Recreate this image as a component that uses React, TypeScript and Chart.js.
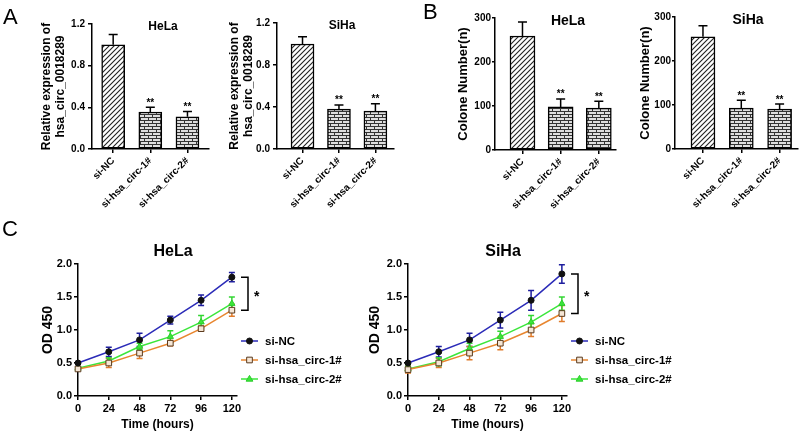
import React, { useEffect, useRef } from 'react';
import { Chart, registerables } from 'chart.js';

Chart.register(...registerables);

const FONT = "'Liberation Sans', Arial, Helvetica, sans-serif";
Chart.defaults.font.family = FONT;
Chart.defaults.color = '#000';

// ---------------- data ----------------
const groups = ['si-NC', 'si-hsa_circ-1#', 'si-hsa_circ-2#'];
const sigMarks = ['', '**', '**'];

const relTicks = [0, 0.4, 0.8, 1.2];
const relHeLa = [1.0, 0.355, 0.31];
const relHeLaErr = [0.1, 0.045, 0.05];
const relSiHa = [1.0, 0.38, 0.36];
const relSiHaErr = [0.07, 0.04, 0.07];

const colTicks = [0, 100, 200, 300];
const colHeLa = [259, 98, 95];
const colHeLaErr = [32, 18, 16];
const colSiHa = [255, 93, 91];
const colSiHaErr = [25, 18, 11];

const hours = [0, 24, 48, 72, 96, 120];
const odTicks = [0, 0.5, 1.0, 1.5, 2.0];
const seriesNames = ['si-NC', 'si-hsa_circ-1#', 'si-hsa_circ-2#'];

const helaNC = [0.5, 0.67, 0.85, 1.15, 1.45, 1.8];
const helaNCErr = [0.01, 0.07, 0.1, 0.06, 0.08, 0.07];
const helaC1 = [0.41, 0.5, 0.65, 0.8, 1.02, 1.3];
const helaC1Err = [0.02, 0.07, 0.08, 0.04, 0.04, 0.09];
const helaC2 = [0.42, 0.53, 0.75, 0.9, 1.12, 1.4];
const helaC2Err = [0.02, 0.05, 0.05, 0.09, 0.1, 0.1];

const sihaNC = [0.5, 0.67, 0.85, 1.15, 1.45, 1.85];
const sihaNCErr = [0.01, 0.08, 0.1, 0.12, 0.15, 0.14];
const sihaC1 = [0.4, 0.5, 0.65, 0.8, 1.0, 1.25];
const sihaC1Err = [0.05, 0.07, 0.1, 0.1, 0.1, 0.12];
const sihaC2 = [0.41, 0.52, 0.72, 0.9, 1.12, 1.4];
const sihaC2Err = [0.04, 0.06, 0.08, 0.08, 0.1, 0.1];

// ---------------- styles ----------------
const seriesStyles = [
  { line: '#2b2bb8', err: '#1e1e9e', marker: 'circle', r: 3, fill: '#111', stroke: '#111' },
  { line: '#e8862f', err: '#e07b2a', marker: 'rect', r: 4, fill: '#f5e6d6', stroke: '#5a3a1e' },
  { line: '#3be63b', err: '#33d633', marker: 'triangle', r: 3.6, fill: '#3be63b', stroke: '#2ccc2c' },
];

type BarSpec = {
  values: number[]; errs: number[]; ticks: number[]; decimals: number; yMax: number;
  title: string; yTitle: string | string[];
  left: number; top: number; w: number; h: number; padTop: number; padRight: number;
  yW: number; xH: number; xMin: number; xMax: number; barW: number;
  yTitleSize: number; yTitleLH: number; yTitlePad: number; tickLen: number; tickPad: number;
  titleX: number; titleY: number; titleSize: number;
};

const barPanels: BarSpec[] = [
  {
    values: relHeLa, errs: relHeLaErr, ticks: relTicks, decimals: 1, yMax: 1.2,
    title: 'HeLa', yTitle: ['Relative expression of', 'hsa_circ_0018289'],
    left: 0, top: 0, w: 215, h: 222, padTop: 24, padRight: 6, yW: 92, xH: 73,
    xMin: -0.57, xMax: 2.58, barW: 23, yTitleSize: 12, yTitleLH: 1.1, yTitlePad: 40.4,
    tickLen: 4, tickPad: 3, titleX: 163, titleY: 27, titleSize: 12,
  },
  {
    values: relSiHa, errs: relSiHaErr, ticks: relTicks, decimals: 1, yMax: 1.2,
    title: 'SiHa', yTitle: ['Relative expression of', 'hsa_circ_0018289'],
    left: 190, top: 0, w: 210, h: 222, padTop: 23, padRight: 6, yW: 87, xH: 73,
    xMin: -0.7, xMax: 2.51, barW: 23, yTitleSize: 12, yTitleLH: 1.1, yTitlePad: 38.4,
    tickLen: 4, tickPad: 3, titleX: 152, titleY: 26, titleSize: 12,
  },
  {
    values: colHeLa, errs: colHeLaErr, ticks: colTicks, decimals: 0, yMax: 300,
    title: 'HeLa', yTitle: 'Colone Number(n)',
    left: 400, top: 0, w: 222, h: 222, padTop: 18, padRight: 6, yW: 95, xH: 72,
    xMin: -0.72, xMax: 2.45, barW: 25, yTitleSize: 13, yTitleLH: 1.2, yTitlePad: 55.2,
    tickLen: 3, tickPad: 1, titleX: 168, titleY: 21, titleSize: 14,
  },
  {
    values: colSiHa, errs: colSiHaErr, ticks: colTicks, decimals: 0, yMax: 300,
    title: 'SiHa', yTitle: 'Colone Number(n)',
    left: 622, top: 0, w: 178, h: 222, padTop: 17, padRight: 2, yW: 53, xH: 73,
    xMin: -0.73, xMax: 2.48, barW: 24, yTitleSize: 13, yTitleLH: 1.2, yTitlePad: 15.2,
    tickLen: 3, tickPad: 1, titleX: 126, titleY: 20, titleSize: 14,
  },
];

type LineSpec = {
  series: number[][]; errs: number[][]; title: string;
  left: number; top: number; w: number; h: number; padTop: number; padRight: number;
  yW: number; xH: number; yTitlePad: number; titleX: number; titleY: number;
};

const linePanels: LineSpec[] = [
  {
    series: [helaNC, helaC1, helaC2], errs: [helaNCErr, helaC1Err, helaC2Err], title: 'HeLa',
    left: 0, top: 222, w: 355, h: 212, padTop: 42, padRight: 118, yW: 78, xH: 38,
    yTitlePad: 39.6, titleX: 173, titleY: 30,
  },
  {
    series: [sihaNC, sihaC1, sihaC2], errs: [sihaNCErr, sihaC1Err, sihaC2Err], title: 'SiHa',
    left: 355, top: 222, w: 445, h: 212, padTop: 42, padRight: 233, yW: 53, xH: 38,
    yTitlePad: 11.6, titleX: 148, titleY: 30,
  },
];

// ---------------- helpers ----------------
function makeDiagonal(): CanvasPattern | string {
  const c = document.createElement('canvas');
  c.width = 5; c.height = 5;
  const g = c.getContext('2d');
  if (!g) return '#fff';
  g.fillStyle = '#fff';
  g.fillRect(0, 0, 5, 5);
  g.strokeStyle = '#222';
  g.lineWidth = 1.1;
  g.beginPath();
  g.moveTo(-1, 6); g.lineTo(6, -1);
  g.moveTo(-1, 1); g.lineTo(1, -1);
  g.moveTo(4, 6); g.lineTo(6, 4);
  g.stroke();
  return g.createPattern(c, 'repeat') || '#fff';
}

function makeBrick(): CanvasPattern | string {
  const c = document.createElement('canvas');
  c.width = 8; c.height = 6;
  const g = c.getContext('2d');
  if (!g) return '#bbb';
  g.fillStyle = '#dedede';
  g.fillRect(0, 0, 8, 6);
  g.fillStyle = '#333';
  g.fillRect(0, 0, 8, 1);
  g.fillRect(0, 3, 8, 1);
  g.fillRect(0, 0, 1, 3);
  g.fillRect(4, 3, 1, 3);
  return g.createPattern(c, 'repeat') || '#bbb';
}

function drawMarker(ctx: CanvasRenderingContext2D, style: string, x: number, y: number, r: number, fill: string, stroke: string) {
  ctx.beginPath();
  if (style === 'circle') {
    ctx.arc(x, y, r, 0, Math.PI * 2);
  } else if (style === 'rect') {
    const s = r / Math.SQRT2;
    ctx.rect(x - s, y - s, 2 * s, 2 * s);
  } else {
    ctx.moveTo(x, y - r);
    ctx.lineTo(x + r * 0.95, y + r * 0.6);
    ctx.lineTo(x - r * 0.95, y + r * 0.6);
    ctx.closePath();
  }
  ctx.fillStyle = fill;
  ctx.fill();
  ctx.lineWidth = 1;
  ctx.strokeStyle = stroke;
  ctx.stroke();
}

function barConfig(p: BarSpec, fills: (CanvasPattern | string)[]): any {
  const decor = {
    id: 'barDecor',
    afterDatasetsDraw(chart: any) {
      const ctx: CanvasRenderingContext2D = chart.ctx;
      const meta = chart.getDatasetMeta(0);
      const y = chart.scales.y;
      ctx.save();
      ctx.strokeStyle = '#000';
      ctx.lineWidth = 1.5;
      p.values.forEach((v, i) => {
        const x = meta.data[i].x;
        const yBar = y.getPixelForValue(v);
        const yTop = y.getPixelForValue(v + p.errs[i]);
        ctx.beginPath();
        ctx.moveTo(x, yBar); ctx.lineTo(x, yTop);
        ctx.moveTo(x - 4.5, yTop); ctx.lineTo(x + 4.5, yTop);
        ctx.stroke();
        if (sigMarks[i]) {
          ctx.fillStyle = '#000';
          ctx.font = `bold 10px ${FONT}`;
          ctx.textAlign = 'center';
          ctx.textBaseline = 'alphabetic';
          ctx.fillText(sigMarks[i], x, yTop - 1.5);
        }
      });
      ctx.fillStyle = '#000';
      ctx.font = `bold ${p.titleSize}px ${FONT}`;
      ctx.textAlign = 'center';
      ctx.textBaseline = 'middle';
      ctx.fillText(p.title, p.titleX, p.titleY);
      ctx.restore();
    },
  };
  return {
    type: 'bar',
    data: {
      datasets: [{
        data: p.values.map((v, i) => ({ x: i, y: v })),
        backgroundColor: fills,
        borderColor: '#000',
        borderWidth: 1.5,
        borderSkipped: false,
        barThickness: p.barW,
      }],
    },
    options: {
      animation: false,
      responsive: false,
      maintainAspectRatio: false,
      events: [],
      layout: { padding: { top: p.padTop, right: p.padRight, bottom: 0, left: 0 } },
      plugins: { legend: { display: false }, tooltip: { enabled: false }, title: { display: false } },
      scales: {
        x: {
          type: 'linear', min: p.xMin, max: p.xMax, bounds: 'data', offset: false,
          afterBuildTicks: (s: any) => { s.ticks = p.values.map((_, i) => ({ value: i })); },
          afterFit: (s: any) => { s.height = p.xH; },
          ticks: {
            callback: (v: any) => groups[Number(v)] ?? '',
            minRotation: 45, maxRotation: 45, autoSkip: false, padding: 2,
            color: '#000', font: { size: 10, weight: 'bold' },
          },
          grid: { display: true, offset: false, drawOnChartArea: false, drawTicks: true, tickLength: 4, color: '#000', lineWidth: 1.5 },
          border: { display: true, color: '#000', width: 1.5 },
        },
        y: {
          type: 'linear', min: 0, max: p.yMax,
          afterBuildTicks: (s: any) => { s.ticks = p.ticks.map((v) => ({ value: v })); },
          afterFit: (s: any) => { s.width = p.yW; },
          ticks: {
            callback: (v: any) => Number(v).toFixed(p.decimals),
            padding: p.tickPad, color: '#000', font: { size: 10, weight: 'bold' },
          },
          grid: { display: true, drawOnChartArea: false, drawTicks: true, tickLength: p.tickLen, color: '#000', lineWidth: 1.5 },
          border: { display: true, color: '#000', width: 1.5 },
          title: {
            display: true, text: p.yTitle, color: '#000',
            font: { size: p.yTitleSize, weight: 'bold', lineHeight: p.yTitleLH },
            padding: { top: p.yTitlePad, bottom: 0 },
          },
        },
      },
    },
    plugins: [decor],
  };
}

function lineConfig(p: LineSpec): any {
  const decor = {
    id: 'lineDecor',
    beforeDatasetsDraw(chart: any) {
      const ctx: CanvasRenderingContext2D = chart.ctx;
      const y = chart.scales.y;
      ctx.save();
      ctx.lineWidth = 1.5;
      p.series.forEach((vals, si) => {
        const meta = chart.getDatasetMeta(si);
        ctx.strokeStyle = seriesStyles[si].err;
        vals.forEach((v, j) => {
          const e = p.errs[si][j];
          const x = meta.data[j].x;
          const y1 = y.getPixelForValue(v + e);
          const y2 = y.getPixelForValue(v - e);
          ctx.beginPath();
          ctx.moveTo(x, y1); ctx.lineTo(x, y2);
          ctx.moveTo(x - 3, y1); ctx.lineTo(x + 3, y1);
          ctx.moveTo(x - 3, y2); ctx.lineTo(x + 3, y2);
          ctx.stroke();
        });
      });
      ctx.restore();
    },
    afterDraw(chart: any) {
      const ctx: CanvasRenderingContext2D = chart.ctx;
      const y = chart.scales.y;
      const area = chart.chartArea;
      ctx.save();
      // title
      ctx.fillStyle = '#000';
      ctx.font = `bold 16px ${FONT}`;
      ctx.textAlign = 'center';
      ctx.textBaseline = 'middle';
      ctx.fillText(p.title, p.titleX, p.titleY);
      // significance bracket
      const nc = p.series[0];
      const c1 = p.series[1];
      const yA = y.getPixelForValue(nc[nc.length - 1]);
      const yB = y.getPixelForValue(c1[c1.length - 1]);
      const bx = area.right + 11;
      ctx.strokeStyle = '#000';
      ctx.lineWidth = 1.5;
      ctx.beginPath();
      ctx.moveTo(bx - 7, yA); ctx.lineTo(bx, yA); ctx.lineTo(bx, yB); ctx.lineTo(bx - 7, yB);
      ctx.stroke();
      ctx.font = `bold 14px ${FONT}`;
      ctx.textAlign = 'left';
      ctx.textBaseline = 'middle';
      ctx.fillText('*', bx + 6, (yA + yB) / 2 + 3);
      // legend
      const x0 = area.right + 4;
      const rows = [77, 96, 115];
      seriesNames.forEach((name, i) => {
        const st = seriesStyles[i];
        const ry = area.top + rows[i];
        ctx.strokeStyle = st.line;
        ctx.lineWidth = 1.5;
        ctx.beginPath();
        ctx.moveTo(x0, ry); ctx.lineTo(x0 + 17, ry);
        ctx.stroke();
        drawMarker(ctx, st.marker, x0 + 8.5, ry, st.r, st.fill, st.stroke);
        ctx.fillStyle = '#000';
        ctx.font = `bold 11.5px ${FONT}`;
        ctx.textAlign = 'left';
        ctx.textBaseline = 'middle';
        ctx.fillText(name, x0 + 24, ry + 0.5);
      });
      ctx.restore();
    },
  };
  return {
    type: 'line',
    data: {
      datasets: p.series.map((vals, si) => {
        const st = seriesStyles[si];
        return {
          label: seriesNames[si],
          data: vals.map((v, j) => ({ x: hours[j], y: v })),
          borderColor: st.line,
          backgroundColor: st.line,
          borderWidth: 1.5,
          tension: 0,
          fill: false,
          clip: false,
          pointStyle: st.marker,
          pointRadius: st.r,
          pointBackgroundColor: st.fill,
          pointBorderColor: st.stroke,
          pointBorderWidth: 1,
        };
      }),
    },
    options: {
      animation: false,
      responsive: false,
      maintainAspectRatio: false,
      events: [],
      layout: { padding: { top: p.padTop, right: p.padRight, bottom: 0, left: 0 } },
      plugins: { legend: { display: false }, tooltip: { enabled: false }, title: { display: false } },
      scales: {
        x: {
          type: 'linear', min: 0, max: 124, bounds: 'data',
          afterBuildTicks: (s: any) => { s.ticks = hours.map((v) => ({ value: v })); },
          afterFit: (s: any) => { s.height = p.xH; },
          ticks: { padding: 2, color: '#000', font: { size: 11, weight: 'bold' }, maxRotation: 0, autoSkip: false },
          grid: { display: true, drawOnChartArea: false, drawTicks: true, tickLength: 4, color: '#000', lineWidth: 1.5 },
          border: { display: true, color: '#000', width: 1.5 },
          title: {
            display: true, text: 'Time (hours)', color: '#000',
            font: { size: 12, weight: 'bold', lineHeight: 1.2 },
            padding: { top: 0, bottom: 1.8 },
          },
        },
        y: {
          type: 'linear', min: 0, max: 2,
          afterBuildTicks: (s: any) => { s.ticks = odTicks.map((v) => ({ value: v })); },
          afterFit: (s: any) => { s.width = p.yW; },
          ticks: {
            callback: (v: any) => Number(v).toFixed(1),
            padding: 2, color: '#000', font: { size: 11, weight: 'bold' },
          },
          grid: { display: true, drawOnChartArea: false, drawTicks: true, tickLength: 4, color: '#000', lineWidth: 1.5 },
          border: { display: true, color: '#000', width: 1.5 },
          title: {
            display: true, text: 'OD 450', color: '#000',
            font: { size: 14, weight: 'bold', lineHeight: 1.2 },
            padding: { top: p.yTitlePad, bottom: 0 },
          },
        },
      },
    },
    plugins: [decor],
  };
}

const letters = [
  { t: 'A', left: 3, top: 6.4 },
  { t: 'B', left: 423, top: 1.4 },
  { t: 'C', left: 2, top: 218.4 },
];

export default function App() {
  const refs = useRef<(HTMLCanvasElement | null)[]>([]);

  useEffect(() => {
    const charts: Chart[] = [];
    const diag = makeDiagonal();
    const brick = makeBrick();
    barPanels.forEach((p, i) => {
      const c = refs.current[i];
      if (c) charts.push(new Chart(c, barConfig(p, [diag, brick, brick])));
    });
    linePanels.forEach((p, i) => {
      const c = refs.current[barPanels.length + i];
      if (c) charts.push(new Chart(c, lineConfig(p)));
    });
    return () => charts.forEach((c) => c.destroy());
  }, []);

  const all = [...barPanels, ...linePanels];
  return (
    <div style={{ position: 'fixed', left: 0, top: 0, width: 800, height: 434, background: '#fff', overflow: 'hidden' }}>
      {all.map((p, i) => (
        <canvas
          key={i}
          ref={(el) => { refs.current[i] = el; }}
          width={p.w}
          height={p.h}
          style={{ position: 'absolute', left: p.left, top: p.top, width: p.w, height: p.h }}
        />
      ))}
      {letters.map((l) => (
        <div
          key={l.t}
          style={{ position: 'absolute', left: l.left, top: l.top, fontFamily: FONT, fontSize: 22, lineHeight: '22px', color: '#000' }}
        >
          {l.t}
        </div>
      ))}
    </div>
  );
}
